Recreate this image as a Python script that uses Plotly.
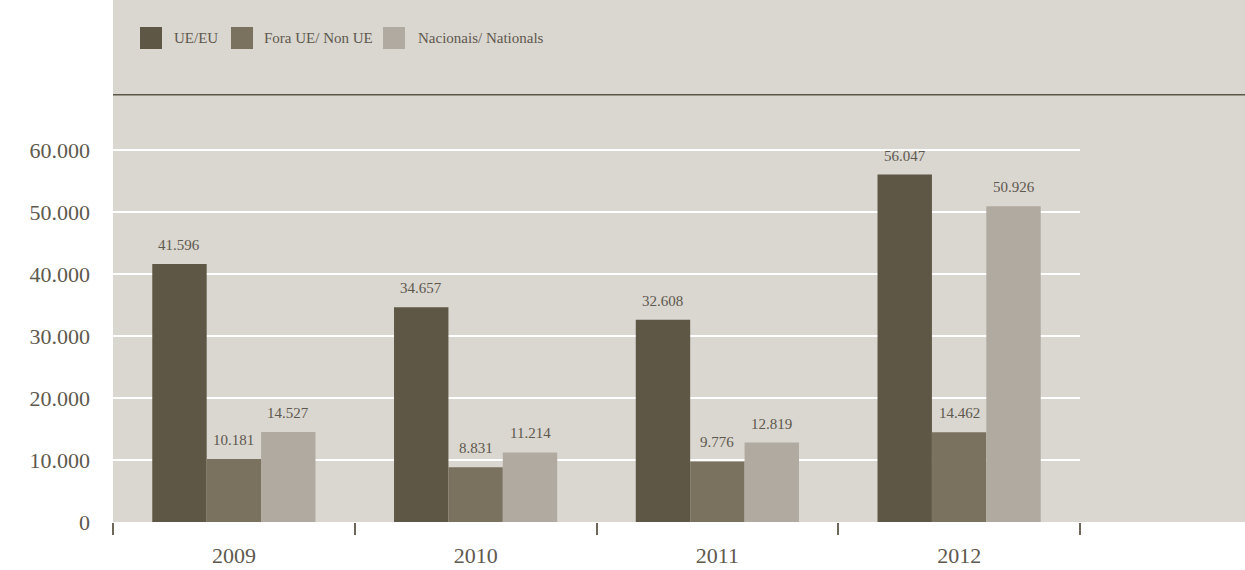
import plotly.graph_objects as go

# Data
years = ["2009", "2010", "2011", "2012"]
series_names = ["UE/EU", "Fora UE/ Non UE", "Nacionais/ Nationals"]
ue_eu = [41596, 34657, 32608, 56047]
non_ue = [10181, 8831, 9776, 14462]
nacionais = [14527, 11214, 12819, 50926]
y_ticks = [0, 10000, 20000, 30000, 40000, 50000, 60000]
y_tick_labels = ["0", "10.000", "20.000", "30.000", "40.000", "50.000", "60.000"]

colors = ["#5f5745", "#7a715e", "#b0aaa0"]
bg = "#dad6d0"
text_col = "#5e594e"
font_family = "Liberation Serif, Times New Roman, serif"

W, H = 1245, 570
ML, MR, MT, MB = 113, 165, 0, 48
PW, PH = W - ML - MR, H - MT - MB


def px_x(px):
    return (px - ML) / PW


def px_y(py):
    return (H - MB - py) / PH


def fmt(v):
    return f"{v:,}".replace(",", ".")


fig = go.Figure()
all_series = [ue_eu, non_ue, nacionais]
for name, vals, col in zip(series_names, all_series, colors):
    fig.add_trace(go.Bar(
        x=years, y=vals, name=name, marker=dict(color=col, line=dict(width=0)),
        showlegend=False, hoverinfo="skip",
    ))

bargap = 0.325
cat_px = PW / len(years)
bar_px = cat_px * (1 - bargap) / 3
annotations = []
for i, vals in enumerate(all_series):
    for k, v in enumerate(vals):
        annotations.append(dict(
            x=k, y=v, xref="x", yref="y", text=fmt(v), showarrow=False,
            xshift=(i - 1) * bar_px, yshift=9, yanchor="bottom",
            font=dict(size=15, color=text_col, family=font_family),
        ))

# Legend drawn as squares with labels
legend_sq = [(140, 162), (231, 253), (383, 405)]
legend_txt_x = [172, 262, 416]
shapes = [
    dict(type="rect", xref="paper", yref="paper", x0=1, x1=px_x(W + 5),
         y0=0, y1=px_y(-5), fillcolor=bg, line=dict(width=0), layer="below"),
    dict(type="rect", xref="paper", yref="paper", x0=0, x1=1,
         y0=1, y1=px_y(-5), fillcolor=bg, line=dict(width=0), layer="below"),
    dict(type="line", xref="paper", yref="paper", x0=0, x1=px_x(W + 5),
         y0=px_y(94.8), y1=px_y(94.8), line=dict(color="#5a5546", width=1.6)),
]
for (x0, x1), tx, name, col in zip(legend_sq, legend_txt_x, series_names, colors):
    shapes.append(dict(type="rect", xref="paper", yref="paper",
                       x0=px_x(x0), x1=px_x(x1), y0=px_y(49), y1=px_y(27),
                       fillcolor=col, line=dict(width=0)))
    annotations.append(dict(x=px_x(tx), y=px_y(38), xref="paper", yref="paper",
                            text=name, showarrow=False, xanchor="left", yanchor="middle",
                            font=dict(size=15, color=text_col, family=font_family)))

y_top = 60000 * PH / (H - MB - 150)

fig.update_layout(
    width=W, height=H, barmode="group", bargap=bargap, bargroupgap=0,
    margin=dict(l=ML, r=MR, t=MT, b=MB, pad=0),
    paper_bgcolor="white", plot_bgcolor=bg,
    font=dict(family=font_family, color=text_col),
    shapes=shapes, annotations=annotations,
    xaxis=dict(type="category", range=[-0.5, len(years) - 0.5],
               showgrid=False, showline=False, zeroline=False,
               ticks="outside", tickson="boundaries", ticklen=12, tickwidth=2,
               tickcolor="#6d6759", ticklabelstandoff=18, tickangle=0,
               tickfont=dict(size=22, color=text_col, family=font_family)),
    yaxis=dict(range=[0, y_top], tickvals=y_ticks, ticktext=y_tick_labels,
               showgrid=True, gridcolor="white", gridwidth=1.5, zeroline=False,
               showline=False, ticks="", ticklabelstandoff=22,
               tickfont=dict(size=22, color=text_col, family=font_family)),
)

fig.write_html("out.html")
